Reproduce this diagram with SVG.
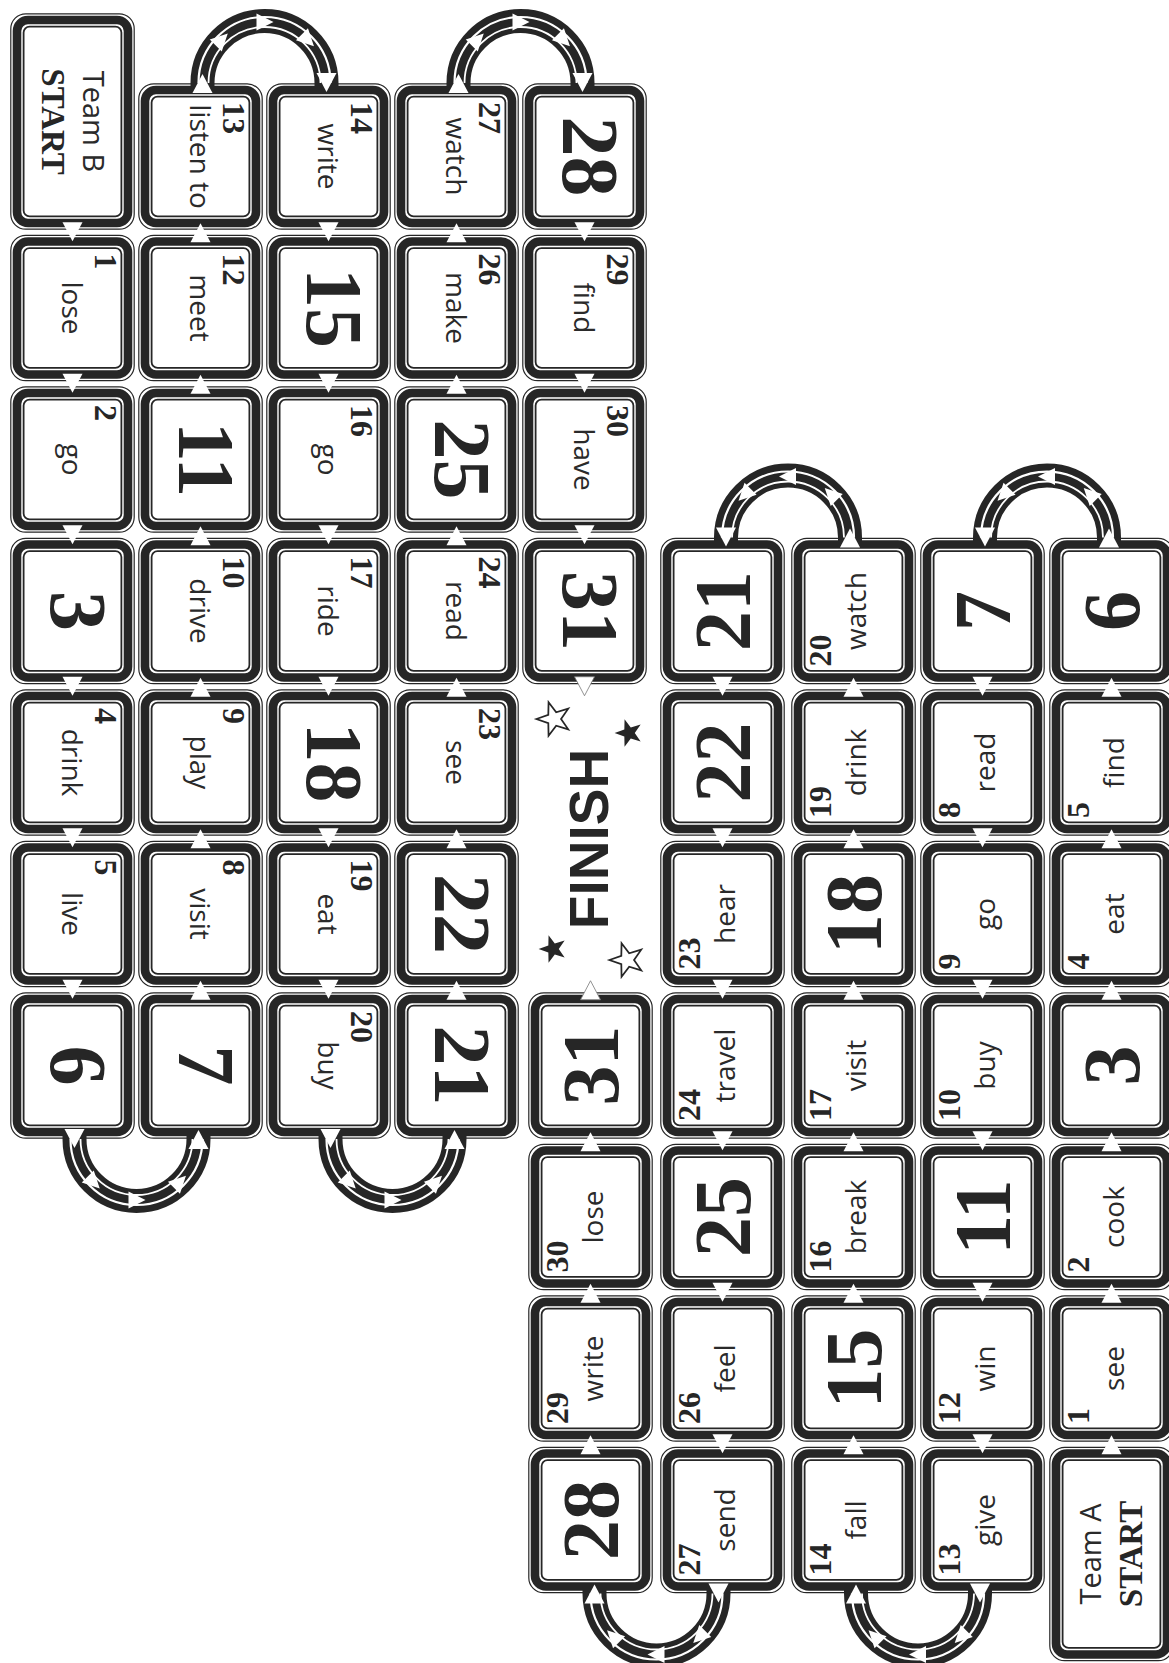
<svg xmlns="http://www.w3.org/2000/svg" width="1169" height="1663" viewBox="0 0 1169 1663">
<style>
.o{fill:#fff;stroke:#262626;stroke-width:1.2}
.k{fill:none;stroke:#262626;stroke-width:8.6}
.n{fill:none;stroke:#262626;stroke-width:1.8}
.w{font-family:"Open Sans","Noto Sans",sans-serif;font-size:28px;fill:#2a2a2a;text-anchor:middle}
.num{font-family:"Liberation Serif",serif;font-weight:bold;font-size:32px;fill:#262626}
.big{font-family:"Liberation Serif",serif;font-weight:bold;font-size:80px;fill:#262626;text-anchor:middle}
.band{fill:none;stroke:#262626;stroke-width:24}
.s1{fill:none;stroke:#fff;stroke-width:2.2}
.s2{fill:none;stroke:#fff;stroke-width:1.8}
.tri{fill:#fff}
.tro{fill:#fff;stroke:#777;stroke-width:0.8}
.st1{font-family:"Open Sans",sans-serif;font-size:29px;fill:#2a2a2a;text-anchor:middle}
.st2{font-family:"Liberation Serif",serif;font-weight:bold;font-size:33px;fill:#262626;text-anchor:middle}
.fin{font-family:"Liberation Sans",Arial,sans-serif;font-weight:bold;font-size:55px;fill:#262626;text-anchor:middle}
.so{fill:#fff;stroke:#262626;stroke-width:1.6}
.sf{fill:#262626}
</style>
<defs>
<g id="tile"><rect class="o" x=".8" y=".8" width="123.4" height="145.4" rx="15"/><rect class="k" x="7" y="7" width="111" height="133" rx="11"/><rect class="n" x="13.6" y="13.6" width="97.8" height="119.8" rx="6"/></g>
<path id="tri" d="M-10,-10L9,0L-10,10Z"/>
<path id="atri" d="M-8,-8.5L9,0L-8,8.5Z"/>
<path id="star" d="M-16,0L-5.18,-3.76L-4.94,-15.22L1.98,-6.09L12.94,-9.4L6.4,0L12.94,9.4L1.98,6.09L-4.94,15.22L-5.18,3.76Z"/>
</defs>
<rect width="1169" height="1663" fill="#fff"/>

<g id="team-b">
<g id="b-start"><rect class="o" x="10.8" y="13.8" width="123.4" height="215.4" rx="15"/><rect class="k" x="17" y="20" width="111" height="203" rx="11"/><rect class="n" x="23.6" y="26.6" width="97.8" height="189.8" rx="6"/><text class="st1" transform="translate(83,121.5) rotate(90)">Team B</text><text class="st2" transform="translate(42,121.5) rotate(90)">START</text></g>
<g id="b1"><use href="#tile" x="10" y="234.5"/><text class="num" transform="translate(95,253.5) rotate(90)">1</text><text class="w" transform="translate(72.5,308) rotate(90)" y="11">lose</text></g>
<g id="b2"><use href="#tile" x="10" y="386"/><text class="num" transform="translate(95,405) rotate(90)">2</text><text class="w" transform="translate(72.5,459.5) rotate(90)" y="11">go</text></g>
<g id="b3"><use href="#tile" x="10" y="537.5"/><text class="big" transform="translate(77.5,611) rotate(90)" y="27">3</text></g>
<g id="b4"><use href="#tile" x="10" y="689"/><text class="num" transform="translate(95,708) rotate(90)">4</text><text class="w" transform="translate(72.5,762.5) rotate(90)" y="11">drink</text></g>
<g id="b5"><use href="#tile" x="10" y="840.5"/><text class="num" transform="translate(95,859.5) rotate(90)">5</text><text class="w" transform="translate(72.5,914) rotate(90)" y="11">live</text></g>
<g id="b6"><use href="#tile" x="10" y="992"/><text class="big" transform="translate(77.5,1065.5) rotate(90)" y="27">6</text></g>
<g id="b7"><use href="#tile" x="138" y="992"/><text class="big" transform="translate(205.5,1065.5) rotate(90)" y="27">7</text></g>
<g id="b8"><use href="#tile" x="138" y="840.5"/><text class="num" transform="translate(223,859.5) rotate(90)">8</text><text class="w" transform="translate(200.5,914) rotate(90)" y="11">visit</text></g>
<g id="b9"><use href="#tile" x="138" y="689"/><text class="num" transform="translate(223,708) rotate(90)">9</text><text class="w" transform="translate(200.5,762.5) rotate(90)" y="11">play</text></g>
<g id="b10"><use href="#tile" x="138" y="537.5"/><text class="num" transform="translate(223,556.5) rotate(90)">10</text><text class="w" transform="translate(200.5,611) rotate(90)" y="11">drive</text></g>
<g id="b11"><use href="#tile" x="138" y="386"/><text class="big" transform="translate(205.5,459.5) rotate(90)" y="27">11</text></g>
<g id="b12"><use href="#tile" x="138" y="234.5"/><text class="num" transform="translate(223,253.5) rotate(90)">12</text><text class="w" transform="translate(200.5,308) rotate(90)" y="11">meet</text></g>
<g id="b13"><use href="#tile" x="138" y="83"/><text class="num" transform="translate(223,102) rotate(90)">13</text><text class="w" transform="translate(200.5,156.5) rotate(90)" y="11">listen to</text></g>
<g id="b14"><use href="#tile" x="266" y="83"/><text class="num" transform="translate(351,102) rotate(90)">14</text><text class="w" transform="translate(328.5,156.5) rotate(90)" y="11">write</text></g>
<g id="b15"><use href="#tile" x="266" y="234.5"/><text class="big" transform="translate(333.5,308) rotate(90)" y="27">15</text></g>
<g id="b16"><use href="#tile" x="266" y="386"/><text class="num" transform="translate(351,405) rotate(90)">16</text><text class="w" transform="translate(328.5,459.5) rotate(90)" y="11">go</text></g>
<g id="b17"><use href="#tile" x="266" y="537.5"/><text class="num" transform="translate(351,556.5) rotate(90)">17</text><text class="w" transform="translate(328.5,611) rotate(90)" y="11">ride</text></g>
<g id="b18"><use href="#tile" x="266" y="689"/><text class="big" transform="translate(333.5,762.5) rotate(90)" y="27">18</text></g>
<g id="b19"><use href="#tile" x="266" y="840.5"/><text class="num" transform="translate(351,859.5) rotate(90)">19</text><text class="w" transform="translate(328.5,914) rotate(90)" y="11">eat</text></g>
<g id="b20"><use href="#tile" x="266" y="992"/><text class="num" transform="translate(351,1011) rotate(90)">20</text><text class="w" transform="translate(328.5,1065.5) rotate(90)" y="11">buy</text></g>
<g id="b21"><use href="#tile" x="394" y="992"/><text class="big" transform="translate(461.5,1065.5) rotate(90)" y="27">21</text></g>
<g id="b22"><use href="#tile" x="394" y="840.5"/><text class="big" transform="translate(461.5,914) rotate(90)" y="27">22</text></g>
<g id="b23"><use href="#tile" x="394" y="689"/><text class="num" transform="translate(479,708) rotate(90)">23</text><text class="w" transform="translate(456.5,762.5) rotate(90)" y="11">see</text></g>
<g id="b24"><use href="#tile" x="394" y="537.5"/><text class="num" transform="translate(479,556.5) rotate(90)">24</text><text class="w" transform="translate(456.5,611) rotate(90)" y="11">read</text></g>
<g id="b25"><use href="#tile" x="394" y="386"/><text class="big" transform="translate(461.5,459.5) rotate(90)" y="27">25</text></g>
<g id="b26"><use href="#tile" x="394" y="234.5"/><text class="num" transform="translate(479,253.5) rotate(90)">26</text><text class="w" transform="translate(456.5,308) rotate(90)" y="11">make</text></g>
<g id="b27"><use href="#tile" x="394" y="83"/><text class="num" transform="translate(479,102) rotate(90)">27</text><text class="w" transform="translate(456.5,156.5) rotate(90)" y="11">watch</text></g>
<g id="b28"><use href="#tile" x="522" y="83"/><text class="big" transform="translate(589.5,156.5) rotate(90)" y="27">28</text></g>
<g id="b29"><use href="#tile" x="522" y="234.5"/><text class="num" transform="translate(607,253.5) rotate(90)">29</text><text class="w" transform="translate(584.5,308) rotate(90)" y="11">find</text></g>
<g id="b30"><use href="#tile" x="522" y="386"/><text class="num" transform="translate(607,405) rotate(90)">30</text><text class="w" transform="translate(584.5,459.5) rotate(90)" y="11">have</text></g>
<g id="b31"><use href="#tile" x="522" y="537.5"/><text class="big" transform="translate(589.5,611) rotate(90)" y="27">31</text></g>
</g>

<g id="team-a">
<g id="a-start"><rect class="o" x="1049.8" y="1447.3" width="123.4" height="213.4" rx="15"/><rect class="k" x="1056" y="1453.5" width="111" height="201" rx="11"/><rect class="n" x="1062.6" y="1460.1" width="97.8" height="187.8" rx="6"/><text class="st1" transform="translate(1101,1554) rotate(-90)">Team A</text><text class="st2" transform="translate(1142,1554) rotate(-90)">START</text></g>
<g id="a1"><use href="#tile" x="1049" y="1295"/><text class="num" transform="translate(1089,1424) rotate(-90)">1</text><text class="w" transform="translate(1111.5,1368.5) rotate(-90)" y="12">see</text></g>
<g id="a2"><use href="#tile" x="1049" y="1143.5"/><text class="num" transform="translate(1089,1272.5) rotate(-90)">2</text><text class="w" transform="translate(1111.5,1217) rotate(-90)" y="12">cook</text></g>
<g id="a3"><use href="#tile" x="1049" y="992"/><text class="big" transform="translate(1111.5,1065.5) rotate(-90)" y="27">3</text></g>
<g id="a4"><use href="#tile" x="1049" y="840.5"/><text class="num" transform="translate(1089,969.5) rotate(-90)">4</text><text class="w" transform="translate(1111.5,914) rotate(-90)" y="12">eat</text></g>
<g id="a5"><use href="#tile" x="1049" y="689"/><text class="num" transform="translate(1089,818) rotate(-90)">5</text><text class="w" transform="translate(1111.5,762.5) rotate(-90)" y="12">find</text></g>
<g id="a6"><use href="#tile" x="1049" y="537.5"/><text class="big" transform="translate(1111.5,611) rotate(-90)" y="27">6</text></g>
<g id="a7"><use href="#tile" x="920" y="537.5"/><text class="big" transform="translate(982.5,611) rotate(-90)" y="27">7</text></g>
<g id="a8"><use href="#tile" x="920" y="689"/><text class="num" transform="translate(960,818) rotate(-90)">8</text><text class="w" transform="translate(982.5,762.5) rotate(-90)" y="12">read</text></g>
<g id="a9"><use href="#tile" x="920" y="840.5"/><text class="num" transform="translate(960,969.5) rotate(-90)">9</text><text class="w" transform="translate(982.5,914) rotate(-90)" y="12">go</text></g>
<g id="a10"><use href="#tile" x="920" y="992"/><text class="num" transform="translate(960,1121) rotate(-90)">10</text><text class="w" transform="translate(982.5,1065.5) rotate(-90)" y="12">buy</text></g>
<g id="a11"><use href="#tile" x="920" y="1143.5"/><text class="big" transform="translate(982.5,1217) rotate(-90)" y="27">11</text></g>
<g id="a12"><use href="#tile" x="920" y="1295"/><text class="num" transform="translate(960,1424) rotate(-90)">12</text><text class="w" transform="translate(982.5,1368.5) rotate(-90)" y="12">win</text></g>
<g id="a13"><use href="#tile" x="920" y="1446.5"/><text class="num" transform="translate(960,1575.5) rotate(-90)">13</text><text class="w" transform="translate(982.5,1520) rotate(-90)" y="12">give</text></g>
<g id="a14"><use href="#tile" x="791" y="1446.5"/><text class="num" transform="translate(831,1575.5) rotate(-90)">14</text><text class="w" transform="translate(853.5,1520) rotate(-90)" y="12">fall</text></g>
<g id="a15"><use href="#tile" x="791" y="1295"/><text class="big" transform="translate(853.5,1368.5) rotate(-90)" y="27">15</text></g>
<g id="a16"><use href="#tile" x="791" y="1143.5"/><text class="num" transform="translate(831,1272.5) rotate(-90)">16</text><text class="w" transform="translate(853.5,1217) rotate(-90)" y="12">break</text></g>
<g id="a17"><use href="#tile" x="791" y="992"/><text class="num" transform="translate(831,1121) rotate(-90)">17</text><text class="w" transform="translate(853.5,1065.5) rotate(-90)" y="12">visit</text></g>
<g id="a18"><use href="#tile" x="791" y="840.5"/><text class="big" transform="translate(853.5,914) rotate(-90)" y="27">18</text></g>
<g id="a19"><use href="#tile" x="791" y="689"/><text class="num" transform="translate(831,818) rotate(-90)">19</text><text class="w" transform="translate(853.5,762.5) rotate(-90)" y="12">drink</text></g>
<g id="a20"><use href="#tile" x="791" y="537.5"/><text class="num" transform="translate(831,666.5) rotate(-90)">20</text><text class="w" transform="translate(853.5,611) rotate(-90)" y="12">watch</text></g>
<g id="a21"><use href="#tile" x="660" y="537.5"/><text class="big" transform="translate(722.5,611) rotate(-90)" y="27">21</text></g>
<g id="a22"><use href="#tile" x="660" y="689"/><text class="big" transform="translate(722.5,762.5) rotate(-90)" y="27">22</text></g>
<g id="a23"><use href="#tile" x="660" y="840.5"/><text class="num" transform="translate(700,969.5) rotate(-90)">23</text><text class="w" transform="translate(722.5,914) rotate(-90)" y="12">hear</text></g>
<g id="a24"><use href="#tile" x="660" y="992"/><text class="num" transform="translate(700,1121) rotate(-90)">24</text><text class="w" transform="translate(722.5,1065.5) rotate(-90)" y="12">travel</text></g>
<g id="a25"><use href="#tile" x="660" y="1143.5"/><text class="big" transform="translate(722.5,1217) rotate(-90)" y="27">25</text></g>
<g id="a26"><use href="#tile" x="660" y="1295"/><text class="num" transform="translate(700,1424) rotate(-90)">26</text><text class="w" transform="translate(722.5,1368.5) rotate(-90)" y="12">feel</text></g>
<g id="a27"><use href="#tile" x="660" y="1446.5"/><text class="num" transform="translate(700,1575.5) rotate(-90)">27</text><text class="w" transform="translate(722.5,1520) rotate(-90)" y="12">send</text></g>
<g id="a28"><use href="#tile" x="528" y="1446.5"/><text class="big" transform="translate(590.5,1520) rotate(-90)" y="27">28</text></g>
<g id="a29"><use href="#tile" x="528" y="1295"/><text class="num" transform="translate(568,1424) rotate(-90)">29</text><text class="w" transform="translate(590.5,1368.5) rotate(-90)" y="12">write</text></g>
<g id="a30"><use href="#tile" x="528" y="1143.5"/><text class="num" transform="translate(568,1272.5) rotate(-90)">30</text><text class="w" transform="translate(590.5,1217) rotate(-90)" y="12">lose</text></g>
<g id="a31"><use href="#tile" x="528" y="992"/><text class="big" transform="translate(590.5,1065.5) rotate(-90)" y="27">31</text></g>
</g>

<g id="finish">
<text class="fin" transform="translate(608,839) rotate(-90)">FINISH</text>
<use href="#star" class="so" transform="translate(554,719) scale(1.1)"/>
<use href="#star" class="sf" transform="translate(629,733) scale(.9)"/>
<use href="#star" class="sf" transform="translate(553,949) scale(.9)"/>
<use href="#star" class="so" transform="translate(627,960) scale(1.1)"/>
</g>

<g id="connectors">
<g id="arc-b13-14"><path class="band" d="M202.5,89L202.5,83A62,62 0 0 1 326.5,83L326.5,89"/><path class="s1" d="M198.5,83A66,66 0 0 1 330.5,83"/><path class="s2" d="M208.5,83A56,56 0 0 1 320.5,83"/>
<use href="#atri" class="tri" transform="translate(221.4,39.9) rotate(-45)"/><use href="#atri" class="tri" transform="translate(264.5,22) rotate(0)"/><use href="#atri" class="tri" transform="translate(307.6,39.9) rotate(45)"/>
<use href="#tri" class="tri" transform="translate(202.5,83) rotate(-90)"/><use href="#tri" class="tri" transform="translate(326.5,83) rotate(90)"/></g>
<g id="arc-b27-28"><path class="band" d="M458.5,89L458.5,83A62,62 0 0 1 582.5,83L582.5,89"/><path class="s1" d="M454.5,83A66,66 0 0 1 586.5,83"/><path class="s2" d="M464.5,83A56,56 0 0 1 576.5,83"/>
<use href="#atri" class="tri" transform="translate(477.4,39.9) rotate(-45)"/><use href="#atri" class="tri" transform="translate(520.5,22) rotate(0)"/><use href="#atri" class="tri" transform="translate(563.6,39.9) rotate(45)"/>
<use href="#tri" class="tri" transform="translate(458.5,83) rotate(-90)"/><use href="#tri" class="tri" transform="translate(582.5,83) rotate(90)"/></g>
<g id="arc-b6-7"><path class="band" d="M74.5,1133L74.5,1139A62,62 0 0 0 198.5,1139L198.5,1133"/><path class="s1" d="M70.5,1139A66,66 0 0 0 202.5,1139"/><path class="s2" d="M80.5,1139A56,56 0 0 0 192.5,1139"/>
<use href="#atri" class="tri" transform="translate(93.4,1182.1) rotate(45)"/><use href="#atri" class="tri" transform="translate(136.5,1200) rotate(0)"/><use href="#atri" class="tri" transform="translate(179.6,1182.1) rotate(-45)"/>
<use href="#tri" class="tri" transform="translate(74.5,1139) rotate(90)"/><use href="#tri" class="tri" transform="translate(198.5,1139) rotate(-90)"/></g>
<g id="arc-b20-21"><path class="band" d="M330.5,1133L330.5,1139A62,62 0 0 0 454.5,1139L454.5,1133"/><path class="s1" d="M326.5,1139A66,66 0 0 0 458.5,1139"/><path class="s2" d="M336.5,1139A56,56 0 0 0 448.5,1139"/>
<use href="#atri" class="tri" transform="translate(349.4,1182.1) rotate(45)"/><use href="#atri" class="tri" transform="translate(392.5,1200) rotate(0)"/><use href="#atri" class="tri" transform="translate(435.6,1182.1) rotate(-45)"/>
<use href="#tri" class="tri" transform="translate(330.5,1139) rotate(90)"/><use href="#tri" class="tri" transform="translate(454.5,1139) rotate(-90)"/></g>
<g id="arc-a6-7"><path class="band" d="M985,543.5L985,537.5A62,62 0 0 1 1109,537.5L1109,543.5"/><path class="s1" d="M981,537.5A66,66 0 0 1 1113,537.5"/><path class="s2" d="M991,537.5A56,56 0 0 1 1103,537.5"/>
<use href="#atri" class="tri" transform="translate(1090.1,494.4) rotate(225)"/><use href="#atri" class="tri" transform="translate(1047,476.5) rotate(180)"/><use href="#atri" class="tri" transform="translate(1003.9,494.4) rotate(135)"/>
<use href="#tri" class="tri" transform="translate(1109,537.5) rotate(-90)"/><use href="#tri" class="tri" transform="translate(985,537.5) rotate(90)"/></g>
<g id="arc-a20-21"><path class="band" d="M726,543.5L726,537.5A62,62 0 0 1 850,537.5L850,543.5"/><path class="s1" d="M722,537.5A66,66 0 0 1 854,537.5"/><path class="s2" d="M732,537.5A56,56 0 0 1 844,537.5"/>
<use href="#atri" class="tri" transform="translate(831.1,494.4) rotate(225)"/><use href="#atri" class="tri" transform="translate(788,476.5) rotate(180)"/><use href="#atri" class="tri" transform="translate(744.9,494.4) rotate(135)"/>
<use href="#tri" class="tri" transform="translate(850,537.5) rotate(-90)"/><use href="#tri" class="tri" transform="translate(726,537.5) rotate(90)"/></g>
<g id="arc-a13-14"><path class="band" d="M856,1587.5L856,1593.5A62,62 0 0 0 980,1593.5L980,1587.5"/><path class="s1" d="M852,1593.5A66,66 0 0 0 984,1593.5"/><path class="s2" d="M862,1593.5A56,56 0 0 0 974,1593.5"/>
<use href="#atri" class="tri" transform="translate(961.1,1636.6) rotate(135)"/><use href="#atri" class="tri" transform="translate(918,1654.5) rotate(180)"/><use href="#atri" class="tri" transform="translate(874.9,1636.6) rotate(225)"/>
<use href="#tri" class="tri" transform="translate(980,1593.5) rotate(90)"/><use href="#tri" class="tri" transform="translate(856,1593.5) rotate(-90)"/></g>
<g id="arc-a27-28"><path class="band" d="M594.5,1587.5L594.5,1593.5A62,62 0 0 0 718.5,1593.5L718.5,1587.5"/><path class="s1" d="M590.5,1593.5A66,66 0 0 0 722.5,1593.5"/><path class="s2" d="M600.5,1593.5A56,56 0 0 0 712.5,1593.5"/>
<use href="#atri" class="tri" transform="translate(699.6,1636.6) rotate(135)"/><use href="#atri" class="tri" transform="translate(656.5,1654.5) rotate(180)"/><use href="#atri" class="tri" transform="translate(613.4,1636.6) rotate(225)"/>
<use href="#tri" class="tri" transform="translate(718.5,1593.5) rotate(90)"/><use href="#tri" class="tri" transform="translate(594.5,1593.5) rotate(-90)"/></g>

<g id="steps-b" class="tri">
<use href="#tri" transform="translate(72.5,232.25) rotate(90)"/><use href="#tri" transform="translate(72.5,383.75) rotate(90)"/><use href="#tri" transform="translate(72.5,535.25) rotate(90)"/><use href="#tri" transform="translate(72.5,686.75) rotate(90)"/><use href="#tri" transform="translate(72.5,838.25) rotate(90)"/><use href="#tri" transform="translate(72.5,989.75) rotate(90)"/>
<use href="#tri" transform="translate(200.5,232.25) rotate(-90)"/><use href="#tri" transform="translate(200.5,383.75) rotate(-90)"/><use href="#tri" transform="translate(200.5,535.25) rotate(-90)"/><use href="#tri" transform="translate(200.5,686.75) rotate(-90)"/><use href="#tri" transform="translate(200.5,838.25) rotate(-90)"/><use href="#tri" transform="translate(200.5,989.75) rotate(-90)"/>
<use href="#tri" transform="translate(328.5,232.25) rotate(90)"/><use href="#tri" transform="translate(328.5,383.75) rotate(90)"/><use href="#tri" transform="translate(328.5,535.25) rotate(90)"/><use href="#tri" transform="translate(328.5,686.75) rotate(90)"/><use href="#tri" transform="translate(328.5,838.25) rotate(90)"/><use href="#tri" transform="translate(328.5,989.75) rotate(90)"/>
<use href="#tri" transform="translate(456.5,232.25) rotate(-90)"/><use href="#tri" transform="translate(456.5,383.75) rotate(-90)"/><use href="#tri" transform="translate(456.5,535.25) rotate(-90)"/><use href="#tri" transform="translate(456.5,686.75) rotate(-90)"/><use href="#tri" transform="translate(456.5,838.25) rotate(-90)"/><use href="#tri" transform="translate(456.5,989.75) rotate(-90)"/>
<use href="#tri" transform="translate(584.5,232.25) rotate(90)"/><use href="#tri" transform="translate(584.5,383.75) rotate(90)"/><use href="#tri" transform="translate(584.5,535.25) rotate(90)"/>
</g>
<g id="steps-a" class="tri">
<use href="#tri" transform="translate(590.5,1141.25) rotate(-90)"/><use href="#tri" transform="translate(590.5,1292.75) rotate(-90)"/><use href="#tri" transform="translate(590.5,1444.25) rotate(-90)"/>
<use href="#tri" transform="translate(722.5,686.75) rotate(90)"/><use href="#tri" transform="translate(722.5,838.25) rotate(90)"/><use href="#tri" transform="translate(722.5,989.75) rotate(90)"/><use href="#tri" transform="translate(722.5,1141.25) rotate(90)"/><use href="#tri" transform="translate(722.5,1292.75) rotate(90)"/><use href="#tri" transform="translate(722.5,1444.25) rotate(90)"/>
<use href="#tri" transform="translate(853.5,686.75) rotate(-90)"/><use href="#tri" transform="translate(853.5,838.25) rotate(-90)"/><use href="#tri" transform="translate(853.5,989.75) rotate(-90)"/><use href="#tri" transform="translate(853.5,1141.25) rotate(-90)"/><use href="#tri" transform="translate(853.5,1292.75) rotate(-90)"/><use href="#tri" transform="translate(853.5,1444.25) rotate(-90)"/>
<use href="#tri" transform="translate(982.5,686.75) rotate(90)"/><use href="#tri" transform="translate(982.5,838.25) rotate(90)"/><use href="#tri" transform="translate(982.5,989.75) rotate(90)"/><use href="#tri" transform="translate(982.5,1141.25) rotate(90)"/><use href="#tri" transform="translate(982.5,1292.75) rotate(90)"/><use href="#tri" transform="translate(982.5,1444.25) rotate(90)"/>
<use href="#tri" transform="translate(1111.5,686.75) rotate(-90)"/><use href="#tri" transform="translate(1111.5,838.25) rotate(-90)"/><use href="#tri" transform="translate(1111.5,989.75) rotate(-90)"/><use href="#tri" transform="translate(1111.5,1141.25) rotate(-90)"/><use href="#tri" transform="translate(1111.5,1292.75) rotate(-90)"/><use href="#tri" transform="translate(1111.5,1444.25) rotate(-90)"/>
</g>
<g id="to-finish">
<use href="#tri" class="tro" transform="translate(584.5,686.75) rotate(90)"/>
<use href="#tri" class="tro" transform="translate(590.5,989.75) rotate(-90)"/>
</g>
</g>
</svg>
